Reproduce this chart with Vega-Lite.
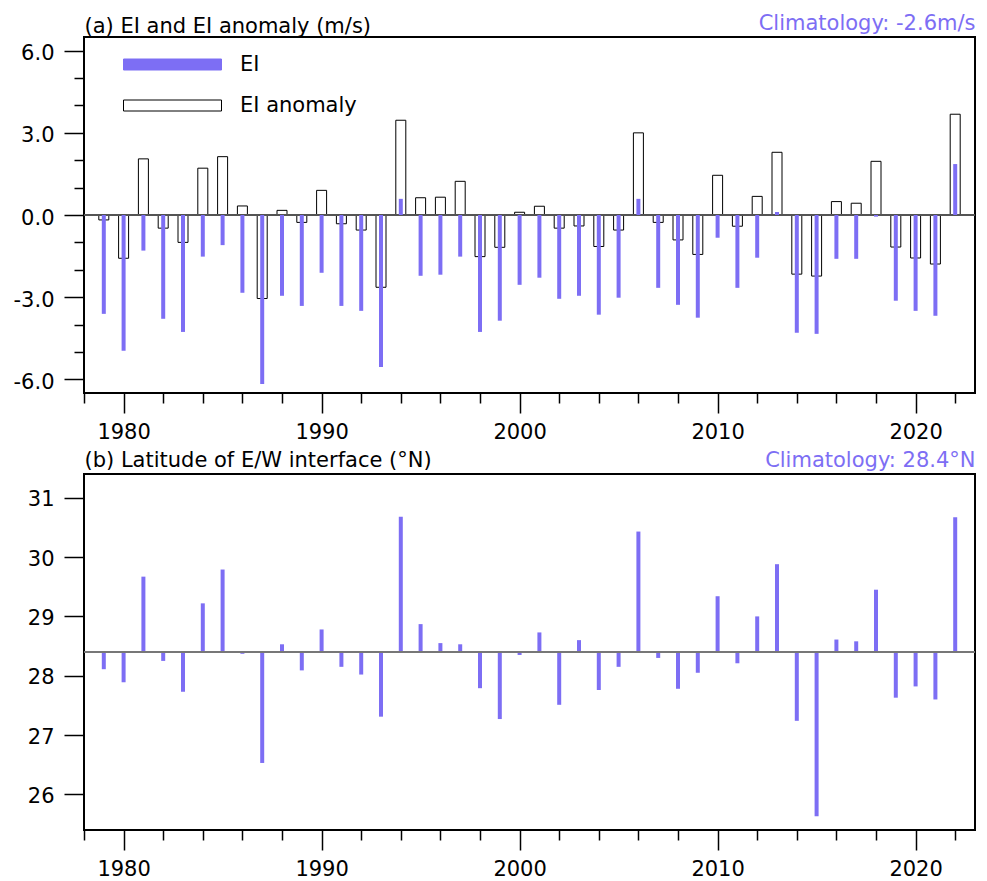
{
  "$schema": "https://vega.github.io/schema/vega-lite/v6.json",
  "padding": {"left": 12, "top": 11, "right": 4, "bottom": 2},
  "background": "white",
  "datasets": {
    "d": [
      {"year": 1979, "ei": -3.61, "anom": -0.18, "lat": 28.11},
      {"year": 1980, "ei": -4.96, "anom": -1.58, "lat": 27.89},
      {"year": 1981, "ei": -1.30, "anom": 2.05, "lat": 29.67},
      {"year": 1982, "ei": -3.79, "anom": -0.48, "lat": 28.25},
      {"year": 1983, "ei": -4.27, "anom": -1.00, "lat": 27.73},
      {"year": 1984, "ei": -1.52, "anom": 1.71, "lat": 29.22},
      {"year": 1985, "ei": -1.10, "anom": 2.13, "lat": 29.79},
      {"year": 1986, "ei": -2.84, "anom": 0.33, "lat": 28.37},
      {"year": 1987, "ei": -6.17, "anom": -3.05, "lat": 26.53},
      {"year": 1988, "ei": -2.95, "anom": 0.17, "lat": 28.53},
      {"year": 1989, "ei": -3.32, "anom": -0.27, "lat": 28.09},
      {"year": 1990, "ei": -2.11, "anom": 0.90, "lat": 28.78},
      {"year": 1991, "ei": -3.32, "anom": -0.32, "lat": 28.15},
      {"year": 1992, "ei": -3.50, "anom": -0.55, "lat": 28.02},
      {"year": 1993, "ei": -5.55, "anom": -2.64, "lat": 27.31},
      {"year": 1994, "ei": 0.59, "anom": 3.46, "lat": 30.68},
      {"year": 1995, "ei": -2.22, "anom": 0.63, "lat": 28.87},
      {"year": 1996, "ei": -2.18, "anom": 0.65, "lat": 28.55},
      {"year": 1997, "ei": -1.52, "anom": 1.23, "lat": 28.53},
      {"year": 1998, "ei": -4.27, "anom": -1.52, "lat": 27.79},
      {"year": 1999, "ei": -3.86, "anom": -1.18, "lat": 27.27},
      {"year": 2000, "ei": -2.55, "anom": 0.10, "lat": 28.35},
      {"year": 2001, "ei": -2.29, "anom": 0.32, "lat": 28.73},
      {"year": 2002, "ei": -3.06, "anom": -0.48, "lat": 27.51},
      {"year": 2003, "ei": -2.95, "anom": -0.40, "lat": 28.60},
      {"year": 2004, "ei": -3.64, "anom": -1.15, "lat": 27.76},
      {"year": 2005, "ei": -3.02, "anom": -0.55, "lat": 28.15},
      {"year": 2006, "ei": 0.59, "anom": 3.00, "lat": 30.43},
      {"year": 2007, "ei": -2.66, "anom": -0.27, "lat": 28.30},
      {"year": 2008, "ei": -3.28, "anom": -0.91, "lat": 27.78},
      {"year": 2009, "ei": -3.75, "anom": -1.44, "lat": 28.05},
      {"year": 2010, "ei": -0.83, "anom": 1.45, "lat": 29.34},
      {"year": 2011, "ei": -2.66, "anom": -0.41, "lat": 28.21},
      {"year": 2012, "ei": -1.56, "anom": 0.68, "lat": 29.00},
      {"year": 2013, "ei": 0.11, "anom": 2.29, "lat": 29.88},
      {"year": 2014, "ei": -4.30, "anom": -2.16, "lat": 27.24},
      {"year": 2015, "ei": -4.34, "anom": -2.23, "lat": 25.63},
      {"year": 2016, "ei": -1.60, "anom": 0.49, "lat": 28.61},
      {"year": 2017, "ei": -1.60, "anom": 0.43, "lat": 28.58},
      {"year": 2018, "ei": -0.06, "anom": 1.96, "lat": 29.45},
      {"year": 2019, "ei": -3.13, "anom": -1.17, "lat": 27.63},
      {"year": 2020, "ei": -3.50, "anom": -1.57, "lat": 27.82},
      {"year": 2021, "ei": -3.68, "anom": -1.79, "lat": 27.60},
      {"year": 2022, "ei": 1.86, "anom": 3.68, "lat": 30.67}
    ]
  },
  "vconcat": [
    {
      "width": 891,
      "height": 356,
      "data": {"name": "d"},
      "layer": [
        {
          "mark": {"type": "bar", "size": 10, "strokeWidth": 1},
          "encoding": {
            "x": {
              "field": "year", "type": "quantitative",
              "scale": {"domain": [1978, 2023], "nice": false, "zero": false, "padding": 0},
              "axis": {
                "values": [1978,1980,1982,1984,1986,1988,1990,1992,1994,1996,1998,2000,2002,2004,2006,2008,2010,2012,2014,2016,2018,2020,2022],
                "tickCount": 60,
                "format": "d",
                "labelExpr": "datum.value % 10 === 0 ? datum.label : ''",
                "tickSize": {"condition": {"test": "datum.value % 10 === 0", "value": 20}, "value": 10},
                "labelPadding": 8,
                "labelFlush": false,
                "labelOverlap": false,
                "title": "Climatology: -2.6m/s",
                "titleX": 891,
                "titleY": -364,
                "titleAlign": "right",
                "titleAnchor": "end",
                "titleBaseline": "alphabetic",
                "titleColor": "#7D6EF4"
              }
            },
            "y": {
              "field": "anom", "type": "quantitative",
              "scale": {"domain": [-6.5, 6.5], "nice": false, "zero": false, "padding": 0},
              "axis": {
                "values": [-6,-5,-4,-3,-2,-1,0,1,2,3,4,5,6],
                "tickCount": 40,
                "labelExpr": "datum.value % 3 === 0 ? (datum.value < 0 ? '-' : '') + format(abs(datum.value), '.1f') : ''",
                "tickSize": {"condition": {"test": "datum.value % 3 === 0", "value": 20}, "value": 10},
                "labelPadding": 10,
                "labelOffset": 3,
                "labelOverlap": false,
                "labelFlush": false,
                "title": "(a) EI and EI anomaly (m/s)",
                "titleAngle": 0,
                "titleX": 0,
                "titleY": -5,
                "titleAlign": "left",
                "titleBaseline": "alphabetic",
                "titleColor": "black"
              }
            },
            "fill": {
              "datum": "EI anomaly", "type": "nominal",
              "scale": {"domain": ["EI", "EI anomaly"], "range": ["#7D6EF4", "#ffffff"]},
              "legend": {
                "title": null, "orient": "none", "legendX": 78, "legendY": 17,
                "symbolType": "M-4.9,-0.55H4.9V0.55H-4.9Z", "symbolSize": 400,
                "symbolStrokeWidth": 1, "labelOffset": 57, "rowPadding": 19,
                "labelFont": "DejaVu Sans", "labelFontSize": 21, "labelColor": "black"
              }
            },
            "stroke": {
              "datum": "EI anomaly", "type": "nominal",
              "scale": {"domain": ["EI", "EI anomaly"], "range": ["#7D6EF4", "#000000"]},
              "legend": {
                "title": null, "orient": "none", "legendX": 78, "legendY": 17,
                "symbolType": "M-4.9,-0.55H4.9V0.55H-4.9Z", "symbolSize": 400,
                "symbolStrokeWidth": 1, "labelOffset": 57, "rowPadding": 19,
                "labelFont": "DejaVu Sans", "labelFontSize": 21, "labelColor": "black"
              }
            }
          }
        },
        {
          "mark": {"type": "rule", "color": "#555555", "strokeWidth": 1.5},
          "encoding": {"y": {"datum": 0}}
        },
        {
          "mark": {"type": "bar", "size": 4},
          "encoding": {
            "x": {"field": "year", "type": "quantitative"},
            "y": {"field": "ei", "type": "quantitative"},
            "fill": {"datum": "EI", "type": "nominal"}
          }
        }
      ]
    },
    {
      "width": 891,
      "height": 356,
      "data": {"name": "d"},
      "layer": [
        {
          "mark": {"type": "bar", "size": 4, "color": "#7D6EF4"},
          "encoding": {
            "x": {
              "field": "year", "type": "quantitative",
              "scale": {"domain": [1978, 2023], "nice": false, "zero": false, "padding": 0},
              "axis": {
                "values": [1978,1980,1982,1984,1986,1988,1990,1992,1994,1996,1998,2000,2002,2004,2006,2008,2010,2012,2014,2016,2018,2020,2022],
                "tickCount": 60,
                "format": "d",
                "labelExpr": "datum.value % 10 === 0 ? datum.label : ''",
                "tickSize": {"condition": {"test": "datum.value % 10 === 0", "value": 20}, "value": 10},
                "labelPadding": 8,
                "labelFlush": false,
                "labelOverlap": false,
                "title": "Climatology: 28.4°N",
                "titleX": 891,
                "titleY": -364,
                "titleAlign": "right",
                "titleAnchor": "end",
                "titleBaseline": "alphabetic",
                "titleColor": "#7D6EF4"
              }
            },
            "y": {
              "field": "lat", "type": "quantitative",
              "scale": {"domain": [25.4, 31.4], "nice": false, "zero": false, "padding": 0},
              "axis": {
                "values": [26, 27, 28, 29, 30, 31],
                "tickCount": 40,
                "format": "d",
                "tickSize": 20,
                "labelPadding": 10,
                "labelOffset": 2,
                "labelOverlap": false,
                "labelFlush": false,
                "title": "(b) Latitude of E/W interface (°N)",
                "titleAngle": 0,
                "titleX": 0,
                "titleY": -8,
                "titleAlign": "left",
                "titleBaseline": "alphabetic",
                "titleColor": "black"
              }
            },
            "y2": {"datum": 28.4}
          }
        },
        {
          "mark": {"type": "rule", "color": "#777777", "strokeWidth": 2, "opacity": 0.9},
          "encoding": {"y": {"datum": 28.4}}
        }
      ]
    }
  ],
  "spacing": 81,
  "bounds": "flush",
  "config": {
    "view": {"stroke": "black", "strokeWidth": 2},
    "font": "DejaVu Sans",
    "axis": {
      "grid": false,
      "domain": false,
      "tickColor": "black",
      "tickWidth": 1.5,
      "labelFont": "DejaVu Sans",
      "labelFontSize": 21,
      "labelColor": "black",
      "titleFont": "DejaVu Sans",
      "titleFontSize": 21,
      "titleFontWeight": "normal"
    },
    "legend": {"labelFont": "DejaVu Sans", "labelFontSize": 21}
  }
}
